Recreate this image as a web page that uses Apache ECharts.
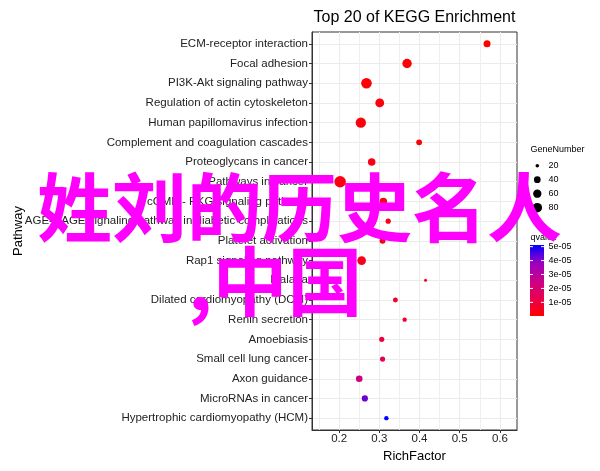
<!DOCTYPE html>
<html><head><meta charset="utf-8">
<script src="https://cdn.jsdelivr.net/npm/echarts@6/dist/echarts.min.js"></script>
<style>html,body{margin:0;padding:0;background:#fff}#c{width:600px;height:471px}</style>
</head><body><div id="c"></div>
<script>
const categories = [
  'ECM-receptor interaction','Focal adhesion','PI3K-Akt signaling pathway','Regulation of actin cytoskeleton',
  'Human papillomavirus infection','Complement and coagulation cascades','Proteoglycans in cancer','Pathways in cancer',
  'cGMP - PKG signaling pathway','AGE-RAGE signaling pathway in diabetic complications','Platelet activation',
  'Rap1 signaling pathway','Malaria','Dilated cardiomyopathy (DCM)','Renin secretion','Amoebiasis',
  'Small cell lung cancer','Axon guidance','MicroRNAs in cancer','Hypertrophic cardiomyopathy (HCM)'
];
const richFactor = [0.568,0.369,0.268,0.301,0.254,0.399,0.281,0.2025,0.310,0.322,0.308,0.256,0.415,0.340,0.363,0.306,0.308,0.250,0.264,0.3175];
const geneNumber = [36,62,80,55,75,27,40,95,40,24,28,53,19,23,21,24,24,33,30,21];
const qvalue = [2e-7,1e-6,1e-6,2e-6,2e-6,2e-6,3e-6,3e-6,4e-6,4e-6,5e-6,5e-6,6e-6,7e-6,8e-6,1.0e-5,1.5e-5,2.4e-5,4.2e-5,5.12e-5];
const xTicks = [0.2,0.3,0.4,0.5,0.6];
const xMinorTicks = [0.15,0.25,0.35,0.45,0.55];
const sizeBreaks = [20,40,60,80];
const qBreaks = [1e-5,2e-5,3e-5,4e-5,5e-5];
const overlayLines = ['姓刘的历史名人', ',中国'];

const FONT = 'Liberation Sans, Arial, sans-serif';
const gMin = Math.min(...geneNumber), gMax = Math.max(...geneNumber);
const qMin = Math.min(...qvalue), qMax = Math.max(...qvalue);
function sizeOf(g){ return 3 + 8.5*Math.sqrt(Math.max(0,(g-gMin)/(gMax-gMin))); }
const colorStops = ['#FF0000','#E80050','#CA0089','#9A00C3','#0000FF'];

const chart = echarts.init(document.getElementById('c'));
const data = categories.map((c,i)=>[richFactor[i], i, qvalue[i], geneNumber[i]]);

const gL = 312, gT = 32, gR = 517, gB = 430;
const graphics = [];
graphics.push({type:'text', x:414.5, y:18, z:10, style:{text:'Top 20 of KEGG Enrichment', fontSize:16, fontFamily:FONT, fill:'#000', align:'center', verticalAlign:'middle'}});
graphics.push({type:'text', x:18, y:(gT+gB)/2, rotation:Math.PI/2, style:{text:'Pathway', fontSize:13, fontFamily:FONT, fill:'#000', align:'center', verticalAlign:'middle'}});
// size legend
graphics.push({type:'text', x:530.5, y:150, style:{text:'GeneNumber', fontSize:9, fontFamily:FONT, fill:'#000', verticalAlign:'middle'}});
sizeBreaks.forEach((g,i)=>{
  const y = 165.7 + i*14;
  graphics.push({type:'circle', shape:{cx:537.3, cy:y, r:sizeOf(g)/2*0.9}, style:{fill:'#000'}});
  graphics.push({type:'text', x:548.5, y:y, style:{text:String(g), fontSize:9, fontFamily:FONT, fill:'#000', verticalAlign:'middle'}});
});
// color legend
const cbX = 530, cbW = 14, cbTop = 245, cbBot = 316;
graphics.push({type:'text', x:530.5, y:237.5, style:{text:'qvalue', fontSize:9, fontFamily:FONT, fill:'#000', verticalAlign:'middle'}});
graphics.push({type:'rect', shape:{x:cbX, y:cbTop, width:cbW, height:cbBot-cbTop}, style:{fill:{type:'linear', x:0,y:0,x2:0,y2:1, colorStops: colorStops.slice().reverse().map((c,i,a)=>({offset:i/(a.length-1), color:c}))}}});
qBreaks.forEach(q=>{
  const y = cbBot - (q-qMin)/(qMax-qMin)*(cbBot-cbTop);
  const e = Math.floor(Math.log10(q) + 1e-9); const m = Math.round(q/Math.pow(10,e));
  const lbl = m + 'e-' + String(-e).padStart(2,'0');
  graphics.push({type:'line', shape:{x1:cbX, y1:y, x2:cbX+3, y2:y}, style:{stroke:'#fff', lineWidth:1}});
  graphics.push({type:'line', shape:{x1:cbX+cbW-3, y1:y, x2:cbX+cbW, y2:y}, style:{stroke:'#fff', lineWidth:1}});
  graphics.push({type:'text', x:548.5, y:y, style:{text:lbl, fontSize:9, fontFamily:FONT, fill:'#000', verticalAlign:'middle'}});
});
// overlay
graphics.push({type:'text', x:37, y:207, z:100, style:{text:overlayLines[0], fontSize:75, fontWeight:'bold', fontFamily:'Noto Sans CJK SC', fill:'#FF00FF', verticalAlign:'middle'}});
graphics.push({type:'text', x:188, y:281, z:100, style:{text:overlayLines[1], fontSize:75, fontWeight:'bold', fontFamily:'Noto Sans CJK SC', fill:'#FF00FF', verticalAlign:'middle'}});

chart.setOption({
  animation:false,
  backgroundColor:'#fff',
  grid:{left:gL, top:gT, width:gR-gL, height:gB-gT, show:true, borderColor:'#333', borderWidth:1, containLabel:false},
  xAxis:[{
    type:'value', min:0.1325, max:0.6425, position:'bottom',
    name:'RichFactor', nameLocation:'middle', nameGap:12,
    nameTextStyle:{fontSize:13, fontFamily:FONT, color:'#000'},
    axisLine:{show:true, onZero:false, lineStyle:{color:'#333'}},
    axisTick:{show:true, length:3, customValues:xTicks, lineStyle:{color:'#333'}},
    axisLabel:{customValues:xTicks, formatter:v=>v.toFixed(1), fontSize:11.5, fontFamily:FONT, color:'#222', margin:3},
    splitLine:{show:true, lineStyle:{color:'#EBEBEB', width:1}}
  },{
    type:'value', min:0.1325, max:0.6425, position:'top',
    axisLine:{show:false, onZero:false}, axisLabel:{show:false},
    axisTick:{show:false, customValues:xMinorTicks},
    splitLine:{show:true, lineStyle:{color:'#EFEFEF', width:1}}
  }],
  yAxis:{
    type:'value', min:-0.6, max:19.6, inverse:true,
    axisLine:{show:true, onZero:false, lineStyle:{color:'#333'}},
    axisTick:{show:true, length:3, customValues:categories.map((c,i)=>i), lineStyle:{color:'#333'}},
    axisLabel:{customValues:categories.map((c,i)=>i), formatter:v=>categories[Math.round(v)], fontSize:11.5, fontFamily:FONT, color:'#222', margin:4},
    splitLine:{show:true, lineStyle:{color:'#EBEBEB', width:1}}
  },
  visualMap:{type:'continuous', show:false, dimension:2, min:qMin, max:qMax, seriesIndex:0, inRange:{color:colorStops}},
  series:[{
    type:'scatter', data:data, xAxisIndex:0,
    symbolSize:(v)=>sizeOf(v[3]),
    itemStyle:{opacity:1}
  }],
  graphic:graphics
});
</script></body></html>
